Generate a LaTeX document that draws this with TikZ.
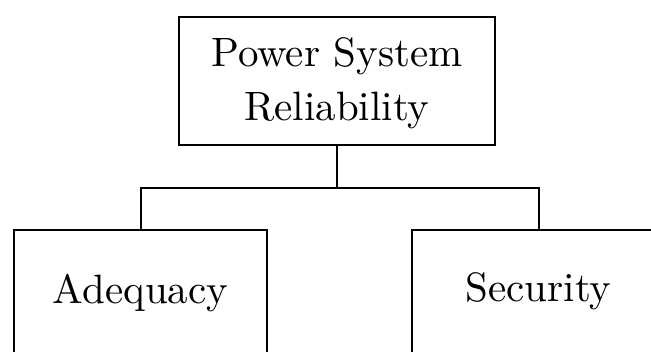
\documentclass[tikz,border=0pt]{standalone}
\usepackage{fontspec}
% Latin Modern in its 10pt design, so large sizes keep the wider, darker letters
\newfontfamily\diagfont{lmroman10-regular.otf}
\begin{document}
\begin{tikzpicture}[x=1pt,y=-1pt,
  box/.style={draw, line width=2.2pt, inner sep=0pt,
    font=\diagfont\fontsize{41}{54}\selectfont},
  link/.style={draw, line width=2.2pt}]
\useasboundingbox (0,0) rectangle (651,351);
\clip (0,0) rectangle (651,351);
% root of the tree
\node[box, align=center, minimum width=316pt, minimum height=128pt,
      text depth=4pt] (root) at (337,81) {Power System\\Reliability};
% the two branches, running past the lower edge
\node[box, anchor=north west, minimum width=253pt,
      text height=73pt, text depth=90pt] (ade) at (13,229) {Adequacy};
\node[box, anchor=north west, minimum width=253pt,
      text height=71pt, text depth=92pt] (sec) at (411,229) {Security};
% connectors
\coordinate (bus) at (root.south |- 0,188);
\draw[link] (root.south) -- (bus);
\draw[link] (ade.north) |- (bus) -| (sec.north);
\end{tikzpicture}
\end{document}
